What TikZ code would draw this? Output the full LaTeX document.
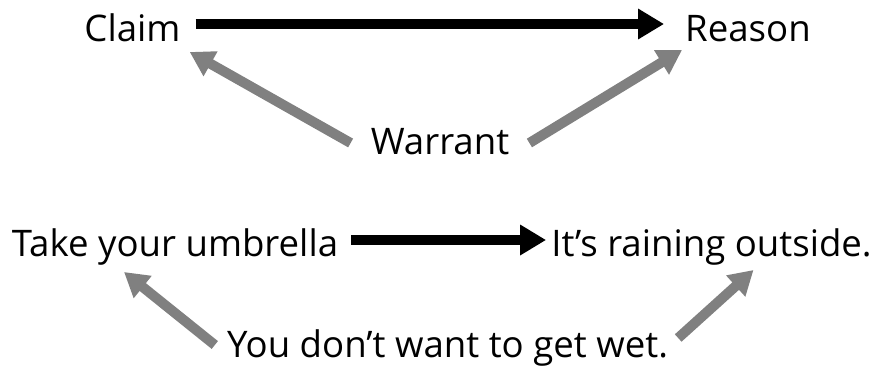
\documentclass[tikz,border=0pt]{standalone}
\usepackage{fontspec}
\setmainfont{Open Sans}
\usepackage{tikz}
\usetikzlibrary{arrows.meta,calc}
\definecolor{arrowgray}{RGB}{128,128,128}

\begin{document}
\begin{tikzpicture}[x=1pt,y=-1pt,
        txt/.style={font=\fontsize{36.6}{40}\selectfont,inner sep=0pt,anchor=base},
        main/.style={line width=10pt,-{Triangle[length=26pt,width=29pt]}},
        side/.style={line width=10pt,arrowgray,-{Triangle[length=24pt,width=27pt]}}]
        \useasboundingbox (0,0) rectangle (886,367);
        % claim - reason - warrant
        \node[txt] (claim) at (132.5,41) {Claim};
        \node[txt] (reason) at (748,41) {Reason};
        \node[txt] (warrant) at (440,154) {Warrant};
        \draw[main] ($(claim.base east)+(15,-17)$)--($(reason.base west)+(-21,-17)$);
        \draw[side] ($(warrant.base west)+(-20,-11)$)--($(claim.base east)+(9,11)$);
        \draw[side] ($(warrant.base east)+(20,-11)$)--($(reason.base west)+(-3,9)$);

        % the umbrella example
        \node[txt] (take) at (175,256) {Take your umbrella};
        \node[txt] (rain) at (711.5,256) {It’s raining outside.};
        \node[txt] (wet) at (447.5,357) {You don’t want to get wet.};
        \draw[main] ($(take.base east)+(13,-16)$)--($(rain.base west)+(-5,-16)$);
        \draw[side] ($(wet.base west)+(-12,-12)$)--($(take.base)+(-51,16)$);
        \draw[side] ($(wet.base east)+(10,-19)$)--($(rain.base)+(42,14)$);
\end{tikzpicture}
\end{document}
